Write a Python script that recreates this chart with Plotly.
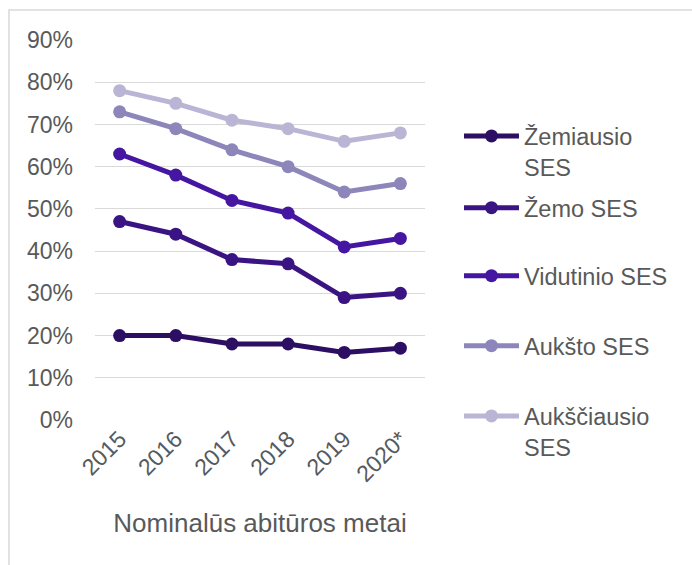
import plotly.graph_objects as go

years = ["2015", "2016", "2017", "2018", "2019", "2020*"]

zemiausio = [20, 20, 18, 18, 16, 17]
zemo = [47, 44, 38, 37, 29, 30]
vidutinio = [63, 58, 52, 49, 41, 43]
auksto = [73, 69, 64, 60, 54, 56]
aukisciausio = [78, 75, 71, 69, 66, 68]

names = ["Žemiausio<br>SES", "Žemo SES", "Vidutinio SES", "Aukšto SES", "Aukščiausio<br>SES"]
series = [zemiausio, zemo, vidutinio, auksto, aukisciausio]
colors = ["#2c0e63", "#3a1482", "#4516a1", "#8c86ba", "#bab5d5"]
legend_ids = ["legend", "legend2", "legend3", "legend4", "legend5"]
legend_y = [0.805, 0.616, 0.437, 0.253, 0.068]

font = "Liberation Sans, Arial, sans-serif"
grey = "#595959"

fig = go.Figure()

for name, vals, color, lid in zip(names, series, colors, legend_ids):
    fig.add_trace(go.Scatter(
        x=years, y=vals, name=name, mode="lines+markers",
        line=dict(color=color, width=5),
        marker=dict(color=color, size=13),
        legend=lid,
        cliponaxis=False,
    ))

legend_style = dict(
    x=1.103, xanchor="left", yanchor="top",
    font=dict(family=font, size=23.5, color=grey),
    bgcolor="rgba(0,0,0,0)", itemwidth=55, valign="top",
    itemclick=False, itemdoubleclick=False,
)

layout_legends = {}
for lid, ly in zip(legend_ids, legend_y):
    layout_legends[lid] = dict(legend_style, y=ly)

fig.update_layout(
    width=692, height=565,
    margin=dict(l=95, r=267, t=40, b=145, autoexpand=False),
    paper_bgcolor="white", plot_bgcolor="white",
    font=dict(family=font, size=23, color=grey),
    showlegend=True,
    xaxis=dict(
        type="category", tickangle=-45, showgrid=False, showline=False,
        ticks="", tickfont=dict(size=23, color=grey), automargin=False,
        title=dict(text="Nominalūs abitūros metai", font=dict(size=26, color=grey), standoff=28),
    ),
    yaxis=dict(
        range=[0, 90], dtick=10, ticksuffix="%", showgrid=True,
        gridcolor="#d9d9d9", gridwidth=1, zeroline=False, showline=False,
        tickfont=dict(size=23, color=grey), ticks="", ticklabelstandoff=21,
        automargin=False,
    ),
    **layout_legends,
)

# outer chart frame
fig.add_shape(type="rect", xref="paper", yref="paper",
              x0=-0.2606, x1=2.0, y0=-1.0, y1=1.0789,
              line=dict(color="#d9d9d9", width=1.5), layer="below")

fig.write_html("out.html", config={"displayModeBar": False},
               post_script="document.body.style.margin='0';")
